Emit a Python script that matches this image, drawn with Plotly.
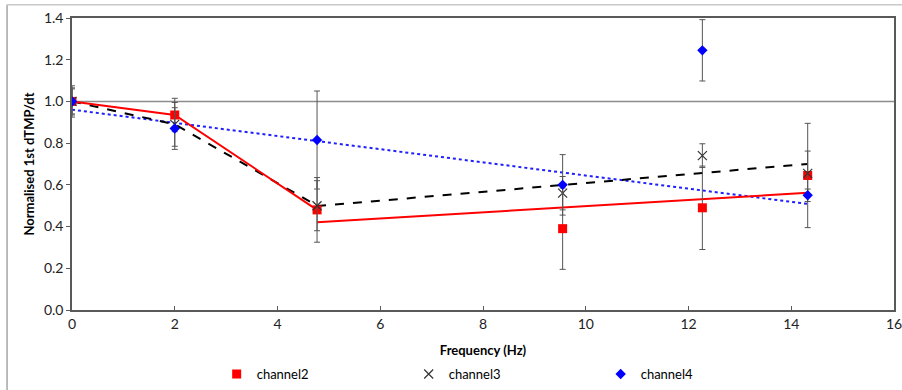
import numpy as np
import plotly.graph_objects as go

# Stimulation frequencies (Hz)
freq = [0, 2, 4.77, 9.55, 12.27, 14.32]

# Normalised 1st dTMP/dt per channel
ch2 = [1.0, 0.935, 0.48, 0.39, 0.49, 0.645]
ch3 = [1.0, 0.89, 0.50, 0.56, 0.74, 0.655]
ch4 = [1.0, 0.87, 0.815, 0.60, 1.245, 0.55]

# Error bar half-widths
ch2_err = [0.075, 0.08, 0.155, 0.195, 0.20, 0.25]
ch3_err = [0.065, 0.105, 0.12, 0.08, 0.057, 0.107]
ch4_err = [0.06, 0.10, 0.235, 0.145, 0.147, 0.03]

# Points excluded from the channel4 linear fit
ch4_fit_mask = [True, True, True, True, False, True]

x_ticks = [0, 2, 4, 6, 8, 10, 12, 14, 16]
y_ticks = [0.0, 0.2, 0.4, 0.6, 0.8, 1.0, 1.2, 1.4]

FONT = "Lato, 'Open Sans', sans-serif"
ERR_COLOR = "#555555"

x = np.array(freq)


def linfit(xs, ys):
    slope, intercept = np.polyfit(xs, ys, 1)
    return slope, intercept


fig = go.Figure()

# Reference level at 1.0
fig.add_trace(go.Scatter(x=[x_ticks[0], x_ticks[-1]], y=[1.0, 1.0], mode="lines",
                         line=dict(color="#8c8c8c", width=1.5),
                         showlegend=False, hoverinfo="skip"))

# Channel4: linear trend over the included points
m4 = np.array(ch4_fit_mask)
s, b = linfit(x[m4], np.array(ch4)[m4])
xs = np.array([x[0], x[-1]])
fig.add_trace(go.Scatter(x=xs, y=s * xs + b, mode="lines",
                         line=dict(color="#1f1fff", width=2, dash="dot"),
                         showlegend=False, hoverinfo="skip"))

# Channel3: connected low-frequency points, then linear trend
fig.add_trace(go.Scatter(x=x[:3], y=ch3[:3], mode="lines",
                         line=dict(color="black", width=2, dash="dash"),
                         showlegend=False, hoverinfo="skip"))
s, b = linfit(x[2:], np.array(ch3)[2:])
xs = np.array([x[2], x[-1]])
fig.add_trace(go.Scatter(x=xs, y=s * xs + b, mode="lines",
                         line=dict(color="black", width=2, dash="dash"),
                         showlegend=False, hoverinfo="skip"))

# Channel2: connected low-frequency points, then linear trend
fig.add_trace(go.Scatter(x=x[:3], y=ch2[:3], mode="lines",
                         line=dict(color="#ff0000", width=2),
                         showlegend=False, hoverinfo="skip"))
s, b = linfit(x[2:], np.array(ch2)[2:])
xs = np.array([x[2], x[-1]])
fig.add_trace(go.Scatter(x=xs, y=s * xs + b, mode="lines",
                         line=dict(color="#ff0000", width=2),
                         showlegend=False, hoverinfo="skip"))

# Data points with error bars
err_style = dict(type="data", visible=True, color=ERR_COLOR, thickness=1, width=3)
fig.add_trace(go.Scatter(x=freq, y=ch2, mode="markers", name="channel2",
                         marker=dict(symbol="square", size=9, color="#ff0000"),
                         error_y=dict(array=ch2_err, **err_style)))
fig.add_trace(go.Scatter(x=freq, y=ch3, mode="markers", name="channel3",
                         marker=dict(symbol="x-thin-open", size=9, color="#333333",
                                     line=dict(color="#333333", width=1.2)),
                         error_y=dict(array=ch3_err, **err_style)))
fig.add_trace(go.Scatter(x=freq, y=ch4, mode="markers", name="channel4",
                         marker=dict(symbol="diamond", size=8, color="#0000ff"),
                         error_y=dict(array=ch4_err, **err_style)))

axis_common = dict(showgrid=False, zeroline=False, showline=True,
                   linecolor="#595959", linewidth=1.5, mirror=True, automargin=False,
                   ticklabeloverflow="allow",
                   tickfont=dict(family=FONT, size=14, color="#222222"))

fig.update_xaxes(range=[x_ticks[0], x_ticks[-1]], tickvals=x_ticks,
                 ticks="inside", ticklen=4, tickcolor="#595959",
                 title=dict(text="<b>Frequency (Hz)</b>", standoff=15,
                            font=dict(family=FONT, size=13, color="black")),
                 **axis_common)
fig.update_yaxes(range=[y_ticks[0], y_ticks[-1]], tickvals=y_ticks,
                 tickformat=".1f", ticks="outside", ticklen=4, tickcolor="#595959",
                 title=dict(text="<b>Normalised 1st dTMP/dt</b>", standoff=6,
                            font=dict(family=FONT, size=13, color="black")),
                 **axis_common)

# Outer chart border (left and top edges)
fig.add_shape(type="line", xref="paper", yref="paper",
              x0=-0.079, x1=-0.079, y0=1.045, y1=-0.28,
              line=dict(color="#a6a6a6", width=1.5))
fig.add_shape(type="line", xref="paper", yref="paper",
              x0=-0.079, x1=1.02, y0=1.045, y1=1.045,
              line=dict(color="#c8c8c8", width=1.5))

fig.update_layout(
    width=902, height=390,
    margin=dict(l=72, r=8, t=18, b=80, autoexpand=False),
    paper_bgcolor="white", plot_bgcolor="white",
    font=dict(family=FONT, color="black"),
    legend=dict(orientation="h", x=0.176, xanchor="left", y=-0.168, yanchor="top",
                entrywidth=147, font=dict(family=FONT, size=13, color="black"),
                itemwidth=30, tracegroupgap=0),
    showlegend=True,
)

fig.write_html("out.html")
